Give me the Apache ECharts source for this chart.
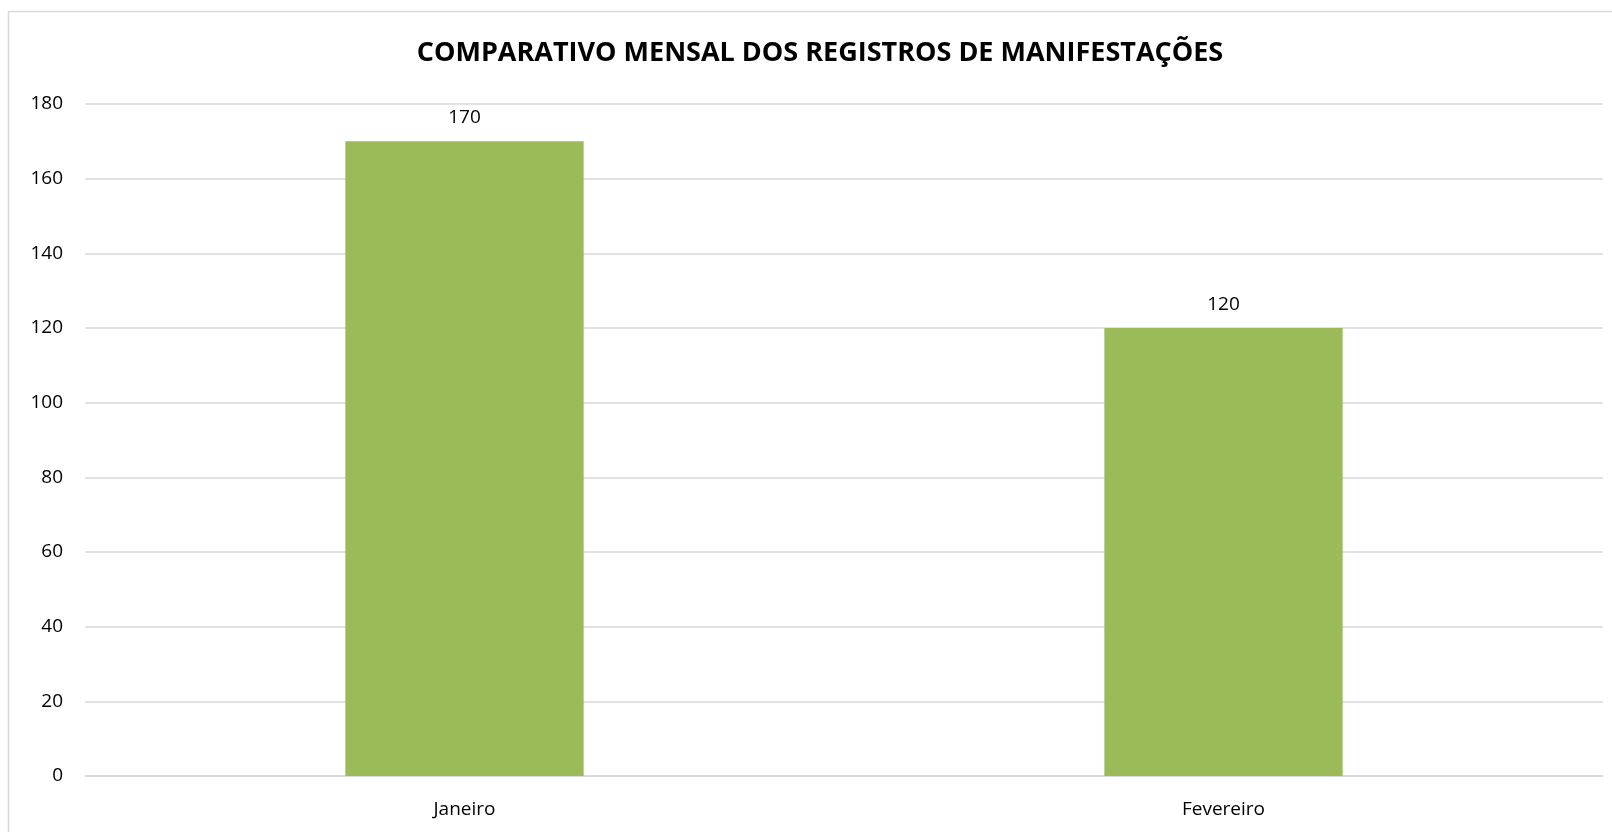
<!DOCTYPE html>
<html>
<head>
<meta charset="utf-8">
<script src="https://cdn.jsdelivr.net/npm/echarts@6/dist/echarts.min.js"></script>
<style>
html,body{margin:0;padding:0;background:#fff;}
#echarts{width:1612px;height:832px;}
</style>
</head>
<body>
<div id="echarts"></div>
<script>
var meses = ['Janeiro', 'Fevereiro'];
var registros = [170, 120];

var myChart = echarts.init(document.getElementById('echarts'));
var option = {
    textStyle: { fontFamily: 'Open Sans' },
    graphic: [{ // moldura do gráfico
        type: 'rect',
        shape: { x: 8.5, y: 11.5, width: 1640, height: 860 },
        style: { fill: 'none', stroke: '#d9d9d9', lineWidth: 1.5 },
        silent: true
    }],
    title: {
        text: 'COMPARATIVO MENSAL DOS REGISTROS DE MANIFESTAÇÕES',
        left: 815,
        top: 35,
        textAlign: 'center',
        textStyle: { fontSize: 27, fontWeight: 'bold', color: '#000', fontFamily: 'Open Sans' }
    },
    grid: { left: 85, right: 9, top: 104, bottom: 56 },
    xAxis: {
        type: 'category',
        data: meses,
        axisLine: { lineStyle: { color: '#d9d9d9', width: 1.5 } },
        axisTick: { show: false },
        axisLabel: { color: '#000', fontSize: 19, margin: 24 }
    },
    yAxis: {
        type: 'value',
        min: 0,
        max: 180,
        interval: 20,
        axisLine: { show: false },
        axisTick: { show: false },
        axisLabel: { color: '#000', fontSize: 19, margin: 22 },
        splitLine: { lineStyle: { color: '#d9d9d9', width: 1.5 } }
    },
    series: [{
        type: 'bar',
        data: registros,
        barWidth: '31.4%',
        itemStyle: { color: '#9bbb59' },
        label: { show: true, position: 'top', distance: 14, color: '#000', fontSize: 19 }
    }]
};
myChart.setOption(option);
</script>
</body>
</html>
